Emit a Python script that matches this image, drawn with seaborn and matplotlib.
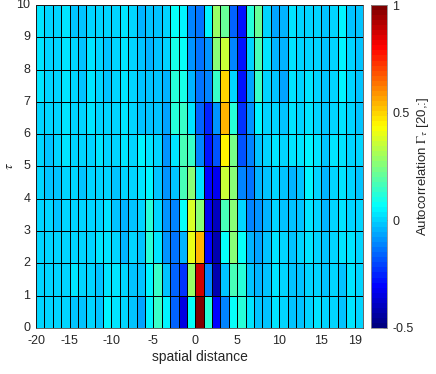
import numpy as np
import pandas as pd
import matplotlib
matplotlib.use('Agg')
import matplotlib.pyplot as plt
import seaborn as sns
from matplotlib.colors import LinearSegmentedColormap

# spatial distance of each column, lag tau of each row
distance = list(range(-19, 20))
tau = list(range(0, 10))

# autocorrelation values, one list per tau (distance -19 .. 19)
tau0 = [0.006, 0.006, -0.005, 0.006, -0.013, -0.02, 0.006, -0.013, 0.044, 0.018, 0.006, -0.02, -0.058,
        0.05, 0.14, 0.06, -0.16, -0.35, 0.0625, 1.0, 0.12, -0.294, -0.106, 0.0625, 0.12, 0.025, -0.013,
        -0.031, 0.033, 0.006, -0.013, -0.02, 0.006, 0.018, -0.005, -0.005, -0.02, 0.025, 0.006]
tau1 = [0.006, 0.006, 0.006, 0.006, 0.025, 0.006, -0.005, -0.02, 0.033, 0.018, 0.006, -0.031, -0.031,
        0.05, 0.14, -0.013, -0.16, -0.22, 0.29, 0.86, -0.125, -0.425, -0.031, 0.175, 0.12, -0.031, -0.05,
        -0.031, 0.025, 0.006, -0.013, -0.02, 0.006, 0.006, -0.013, -0.005, -0.013, 0.018, 0.006]
tau2 = [-0.005, -0.005, 0.006, 0.006, 0.006, -0.005, -0.005, 0.018, 0.033, 0.006, -0.043, -0.005, -0.013,
        0.12, 0.02, -0.1, -0.144, -0.05, 0.4, 0.54, -0.294, -0.425, 0.0625, 0.25, 0.0625, -0.05, -0.069,
        -0.031, 0.018, -0.005, -0.031, -0.005, 0.018, 0.006, -0.013, -0.005, 0.018, 0.018, 0.006]
tau3 = [0.006, -0.005, -0.031, 0.006, 0.006, -0.005, 0.006, 0.006, 0.018, -0.031, -0.05, -0.013, 0.006,
        0.12, 0.006, -0.08, -0.106, 0.0625, 0.38, 0.25, -0.33, -0.39, 0.175, 0.25, 0.006, -0.106, -0.088,
        -0.05, 0.006, -0.013, -0.031, -0.013, 0.018, 0.006, -0.043, 0.006, 0.025, 0.006, -0.005]
tau4 = [0.006, -0.013, -0.02, 0.006, 0.006, -0.013, 0.006, 0.006, 0.006, -0.013, 0.006, 0.006, 0.033,
        0.055, -0.013, -0.09, -0.013, 0.175, 0.25, 0.025, -0.294, -0.33, 0.344, 0.25, -0.125, -0.144, -0.05,
        -0.013, 0.006, -0.013, -0.043, -0.02, 0.044, 0.006, -0.043, -0.005, 0.025, -0.005, -0.013]
tau5 = [0.006, -0.013, 0.006, 0.025, -0.005, -0.005, 0.006, 0.025, -0.005, -0.005, 0.033, 0.006, 0.044,
        0.018, 0.006, -0.09, 0.025, 0.175, 0.14, -0.106, -0.275, -0.18, 0.46, 0.23, -0.18, -0.125, -0.013,
        0.006, 0.018, -0.005, 0.018, 0.025, 0.044, 0.018, -0.02, 0.018, 0.025, 0.006, -0.005]
tau6 = [0.006, -0.005, 0.006, 0.025, -0.005, 0.006, 0.018, -0.005, 0.006, 0.006, 0.033, 0.006, -0.013,
        -0.02, -0.02, -0.06, 0.12, 0.156, 0.025, -0.16, -0.256, -0.088, 0.54, 0.12, -0.24, -0.088, 0.044,
        0.006, 0.006, -0.031, 0.025, 0.006, 0.018, 0.006, -0.02, 0.006, 0.033, -0.005, -0.013]
tau7 = [0.018, 0.006, 0.006, 0.025, 0.006, -0.013, 0.025, 0.006, -0.013, -0.005, 0.025, 0.006, -0.02,
        -0.02, -0.031, -0.05, 0.12, 0.1, -0.05, -0.144, -0.125, 0.14, 0.49, 0.006, -0.275, -0.069, 0.14,
        0.006, -0.013, -0.058, 0.018, 0.006, 0.018, 0.006, -0.02, 0.006, 0.044, 0.006, -0.013]
tau8 = [0.025, 0.006, -0.005, 0.025, 0.006, -0.013, 0.018, 0.006, -0.013, 0.006, 0.025, -0.005, -0.031,
        -0.04, -0.013, -0.005, 0.09, 0.08, -0.088, -0.144, -0.088, 0.25, 0.36, -0.125, -0.275, 0.006, 0.16,
        0.025, -0.05, -0.05, 0.025, 0.006, 0.006, 0.006, -0.013, 0.006, 0.044, -0.005, -0.013]
tau9 = [0.025, 0.006, -0.005, 0.025, -0.013, -0.031, 0.006, -0.005, -0.005, 0.006, 0.025, -0.005, -0.043,
        -0.02, -0.013, 0.006, 0.08, 0.044, -0.106, -0.144, 0.04, 0.29, 0.22, -0.16, -0.275, 0.13, 0.22,
        0.01, -0.06, -0.05, 0.025, -0.005, 0.006, -0.005, -0.031, 0.006, 0.044, -0.013, -0.013]

xtick_labels = [-20, -15, -10, -5, 0, 5, 10, 15, 19]
cbar_ticks = [-0.5, 0, 0.5, 1]

df = pd.DataFrame([tau0, tau1, tau2, tau3, tau4, tau5, tau6, tau7, tau8, tau9],
                  index=tau, columns=distance)

# MATLAB style jet, 64 levels
jet64 = LinearSegmentedColormap('jet64', {
    'red': [(0, 0, 0), (3/8, 0, 0), (5/8, 1, 1), (7/8, 1, 1), (1, 0.5, 0.5)],
    'green': [(0, 0, 0), (1/8, 0, 0), (3/8, 1, 1), (5/8, 1, 1), (7/8, 0, 0), (1, 0, 0)],
    'blue': [(0, 0.5, 0.5), (1/8, 1, 1), (3/8, 1, 1), (5/8, 0, 0), (1, 0, 0)],
}, N=64)

sns.set_style('white')
plt.rcParams['font.family'] = ['Liberation Sans', 'DejaVu Sans']
plt.rcParams['mathtext.fontset'] = 'stix'

fig = plt.figure(figsize=(4.36, 3.74), dpi=100)
ax = fig.add_axes([36/436, 46/374, 327/436, 323/374])
cax = fig.add_axes([371/436, 46/374, 16/436, 323/374])

sns.heatmap(df, ax=ax, cbar_ax=cax, cmap=jet64, vmin=-0.5, vmax=1,
            linewidths=0.6, linecolor='black',
            cbar_kws={'ticks': cbar_ticks})
ax.set_ylim(0, len(tau))

# ticks sit on the left edge of the column with that distance
xpos = [max(v - distance[0], 0) for v in xtick_labels]
ax.set_xticks(xpos)
ax.set_xticklabels([str(v) for v in xtick_labels], rotation=0)
ax.set_yticks(range(0, len(tau) + 1))
ax.set_yticklabels([str(v) for v in range(0, len(tau) + 1)], rotation=0)
ax.tick_params(direction='in', length=2.5, width=0.5, color='#262626',
               labelsize=9, labelcolor='#262626')
ax.tick_params(axis='x', pad=5)
ax.tick_params(axis='y', pad=4)
for s in ax.spines.values():
    s.set_visible(True)
    s.set_color('#262626')
    s.set_linewidth(0.5)

ax.set_xlabel('spatial distance', fontsize=10, color='#262626', labelpad=2)
ax.set_ylabel(r'$\tau$', fontsize=10, color='#262626')
ax.yaxis.set_label_coords(-0.06, 0.5)

cax.tick_params(direction='in', length=3, width=0.5, color='#262626',
                labelsize=9, labelcolor='#262626', pad=4)
cax.set_yticklabels(['-0.5', '0', '0.5', '1'])
cbar = ax.collections[0].colorbar
cbar.outline.set_edgecolor('#8c8c8c')
cbar.outline.set_linewidth(0.6)
cbar.set_label(r'Autocorrelation $\Gamma_\tau$ [20,:]', fontsize=9.5, color='#262626', labelpad=1)

fig.savefig('out.png', dpi=100)
